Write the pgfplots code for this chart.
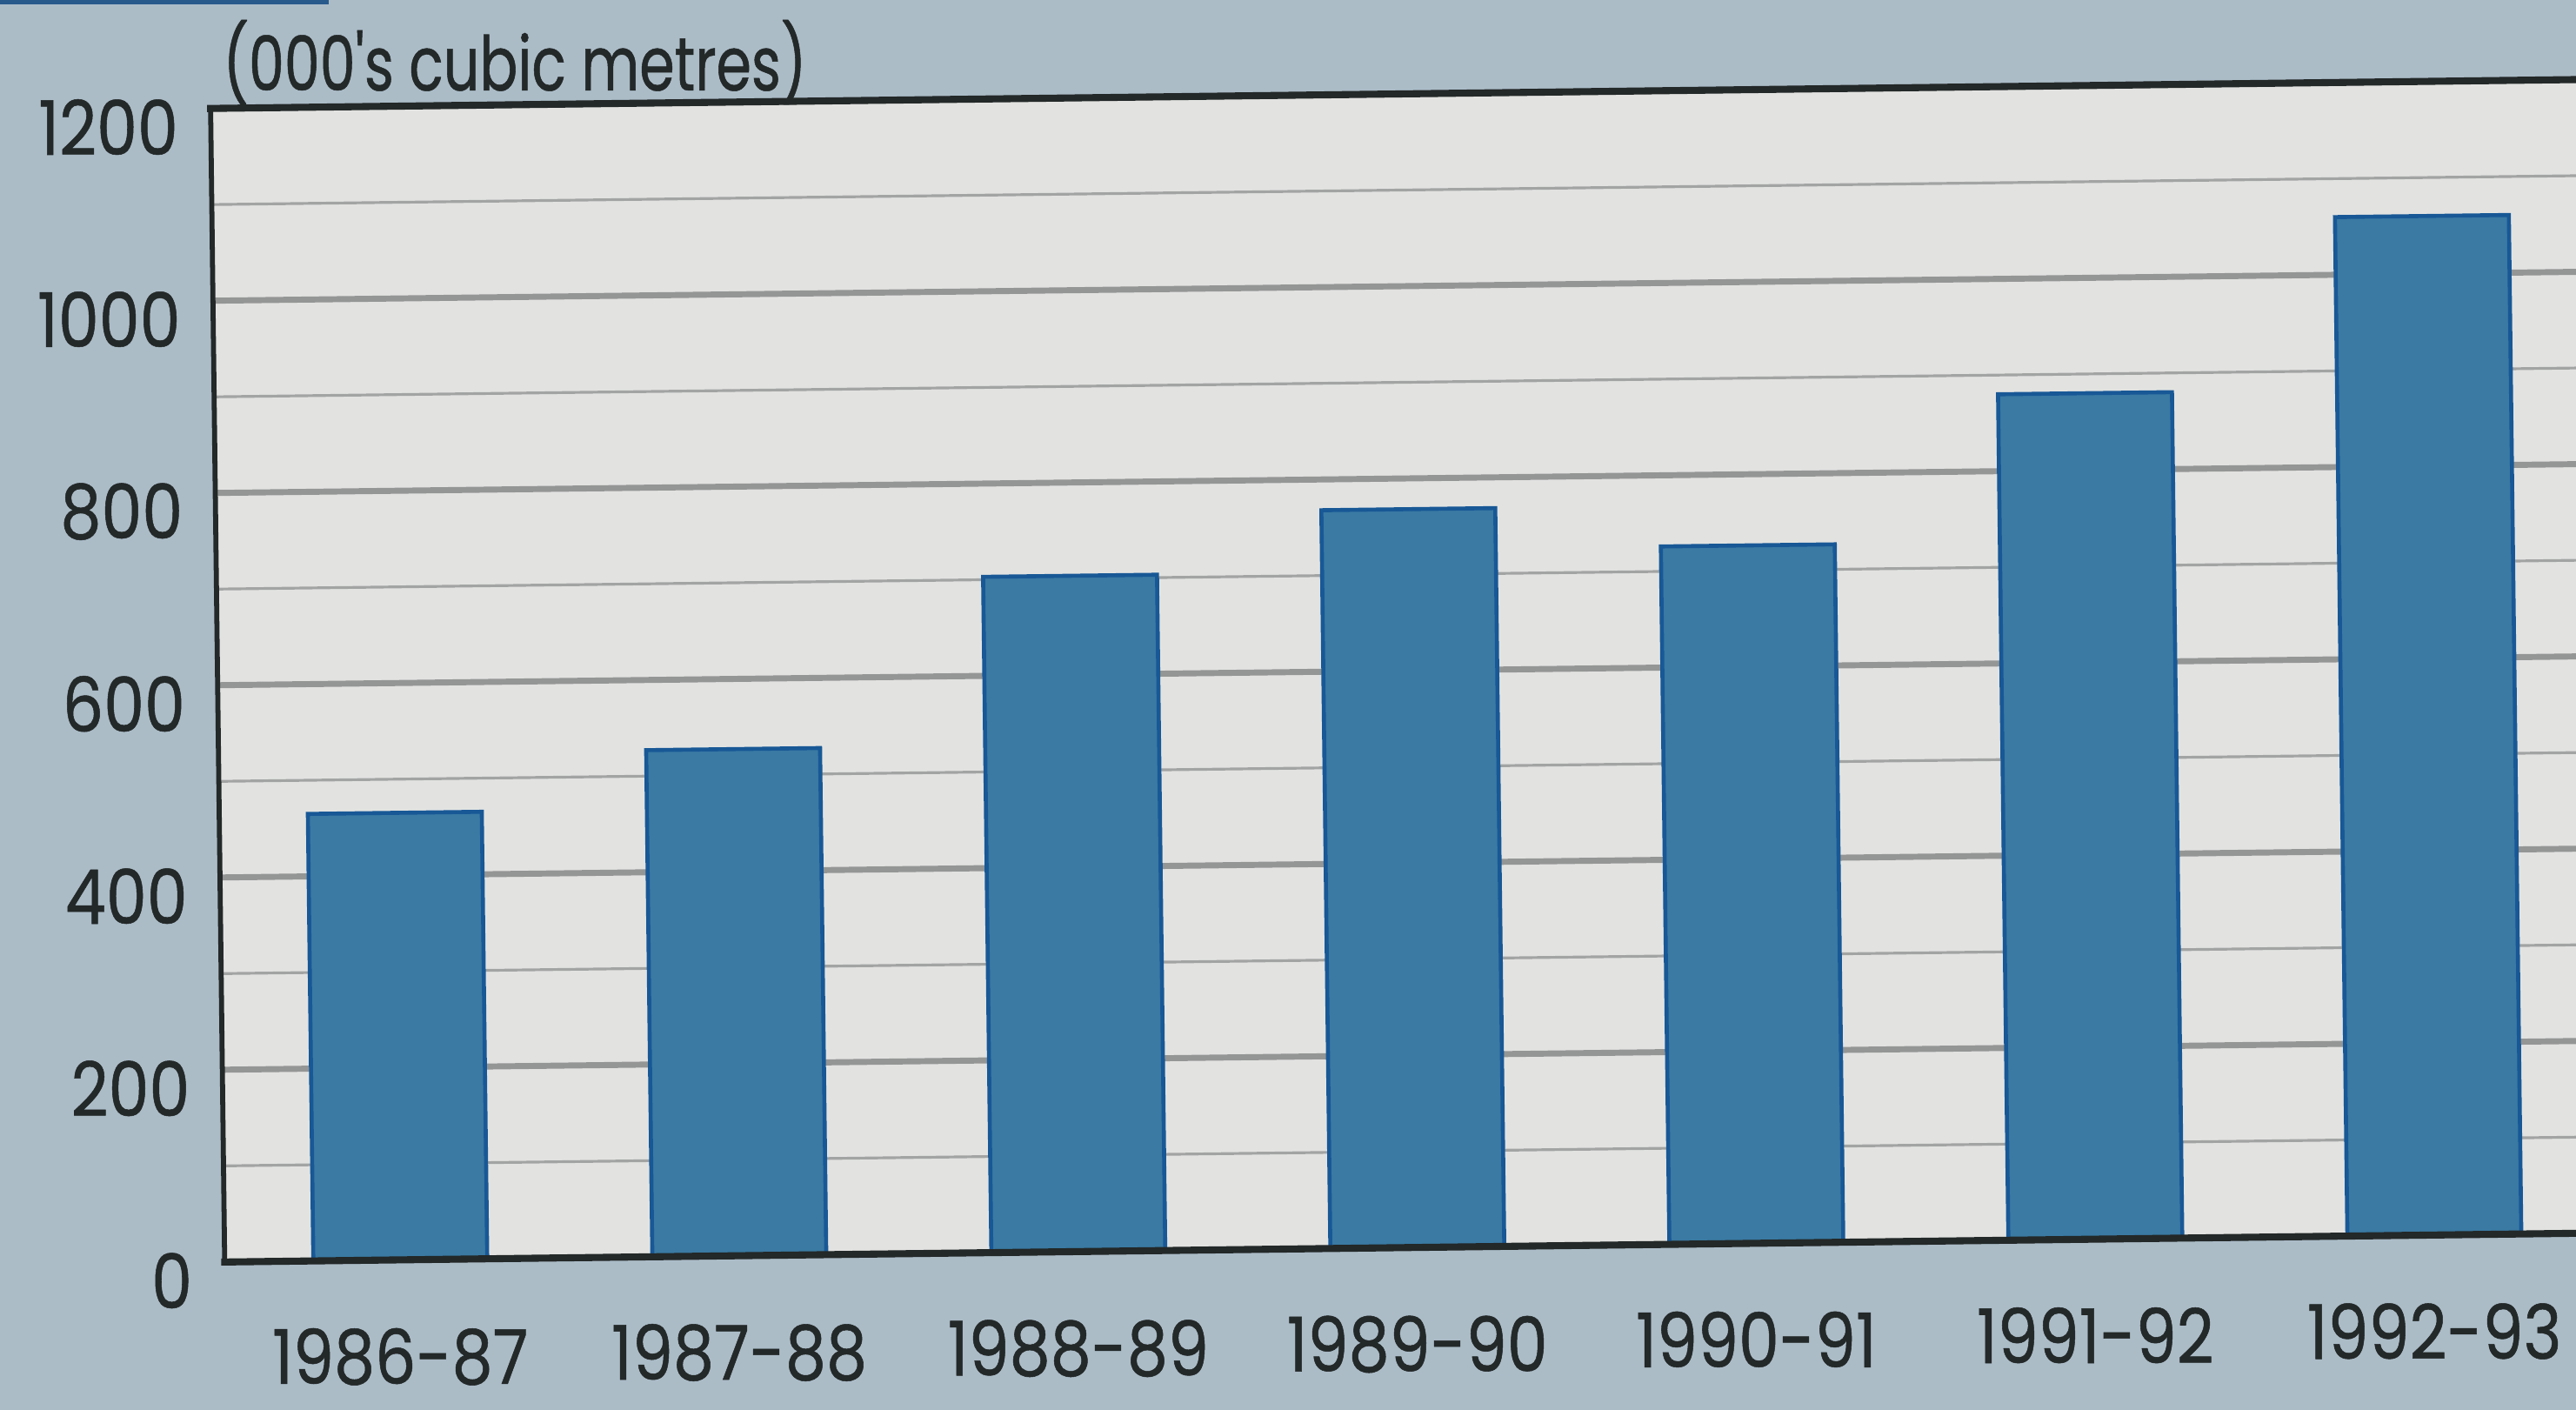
\documentclass[border=0pt]{standalone}
\usepackage{pgfplots}
\pgfplotsset{compat=1.18}
\usepackage{fontspec}
\setmainfont{Poppins}[FakeStretch=0.86, FakeBold=0.6]
\newfontfamily\titlefont{Poppins}[FakeStretch=0.75, FakeBold=0.6]

\definecolor{pagebg}{RGB}{171,188,199}
\definecolor{plotbg}{RGB}{226,227,225}
\definecolor{topband}{RGB}{40,90,140}
\definecolor{barfill}{RGB}{58,122,163}
\definecolor{baredge}{RGB}{24,88,150}
\definecolor{gridmajor}{RGB}{148,150,149}
\definecolor{gridminor}{RGB}{162,164,163}
\definecolor{axisdark}{RGB}{35,40,40}

\begin{document}
\begin{tikzpicture}
\clip (0,0) rectangle (18cm,9.85cm);
\fill[pagebg] (0,0) rectangle (18cm,9.85cm);
\fill[topband] (0,9.82cm) rectangle (2.3cm,9.85cm);
\begin{axis}[
  at={(1.57cm,1.033cm)}, anchor=south west,
  rotate around={0.7:(current axis.south west)},
  scale only axis, width=17.10cm, height=8.06cm,
  xmin=-0.518, xmax=6.7, ymin=0, ymax=1200,
  clip=false,
  axis line style={draw=none},
  axis background/.style={fill=plotbg},
  xtick={0,...,6},
  xticklabels={1986-87,1987-88,1988-89,1989-90,1990-91,1991-92,1992-93},
  ytick={0,200,...,1200},
  minor ytick={100,300,...,1100},
  ymajorgrids, yminorgrids,
  major grid style={gridmajor, line width=1.2pt},
  minor grid style={gridminor, line width=0.55pt},
  major tick length=0pt, minor tick length=0pt,
  /pgf/number format/assume math mode=true,
  scaled y ticks=false,
  yticklabel={\pgfmathprintnumber[1000 sep={}]{\tick}},
  tick label style={font=\fontsize{15}{17}\selectfont, text=axisdark, inner sep=0pt},
  yticklabel style={anchor=east, xshift=-0.22cm, yshift=-0.13cm},
  xticklabel style={anchor=north, yshift=-0.47cm},
]
\addplot[ybar, bar width=0.513, fill=barfill, draw=baredge, line width=0.8pt]
  coordinates {(0,465) (1,527) (2,703) (3,768) (4,726) (5,880) (6,1060)};
\draw[axisdark, line width=1.0pt, line cap=rect] (rel axis cs:0,0) -- (rel axis cs:0,1);
\draw[axisdark, line width=1.4pt, line cap=rect] (rel axis cs:0,1) -- (rel axis cs:1,1);
\draw[axisdark, line width=1.4pt, line cap=rect] (rel axis cs:0,0) -- (rel axis cs:1,0);
\node[anchor=base west, inner sep=0pt, text=axisdark, font=\titlefont\fontsize{15}{17}\selectfont,
      xshift=0.08cm, yshift=0.126cm] at (rel axis cs:0,1) {(000's cubic metres)};
\end{axis}
\end{tikzpicture}
\end{document}
